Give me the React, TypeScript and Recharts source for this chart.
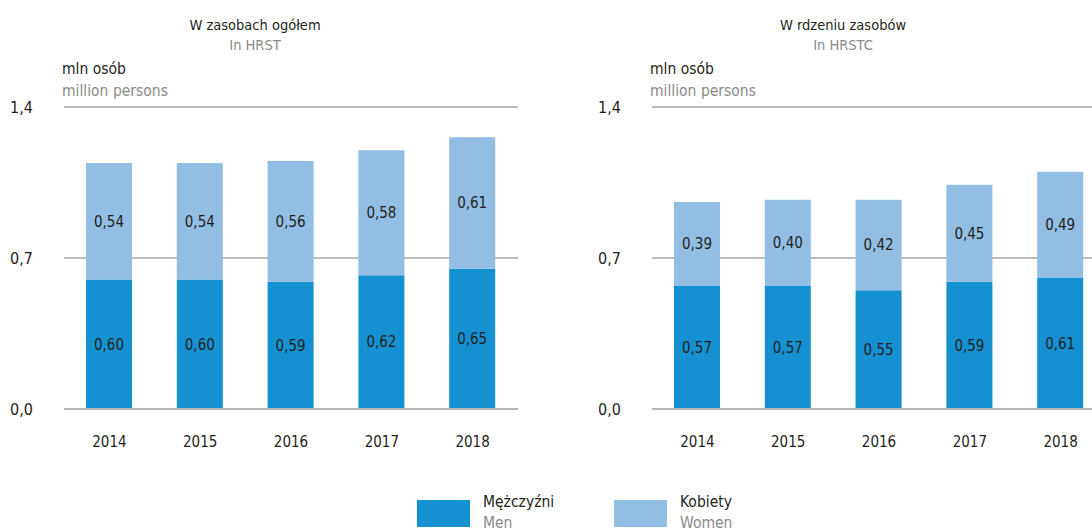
import { BarChart, Bar, XAxis, YAxis, CartesianGrid, LabelList } from "recharts";

const years = ["2014", "2015", "2016", "2017", "2018"];
const hrstMen = [0.6, 0.6, 0.59, 0.62, 0.65];
const hrstWomen = [0.54, 0.54, 0.56, 0.58, 0.61];
const hrstcMen = [0.57, 0.57, 0.55, 0.59, 0.61];
const hrstcWomen = [0.39, 0.4, 0.42, 0.45, 0.49];
const yTicks = [0, 0.7, 1.4];

const FONT = '"Liberation Sans Narrow", "DejaVu Sans Condensed", "Roboto Condensed", sans-serif';
const DARK = "#1591d2";
const LIGHT = "#93bee3";
const TEXT = "#231f20";
const GREY = "#8a8a8a";

const fmt = (v: number) => v.toFixed(2).replace(".", ",");

function YTick(props: any) {
  const { y, payload } = props;
  return (
    <text x={10} y={y} dy={6} fill={TEXT} fontSize={16} fontFamily={FONT} textAnchor="start">
      {payload.value.toFixed(1).replace(".", ",")}
    </text>
  );
}

function Panel({ left, title, sub, men, women }: { left: number; title: string; sub: string; men: number[]; women: number[] }) {
  const data = years.map((y, i) => ({ year: y, men: men[i], women: women[i] }));
  return (
    <div style={{ position: "absolute", left, top: 0, width: 540, height: 470 }}>
      <div style={{ position: "absolute", left: 0, width: 510, top: 15, textAlign: "center", fontSize: 14.5, color: TEXT, lineHeight: "20px" }}>
        {title}
        <div style={{ color: GREY }}>{sub}</div>
      </div>
      <div style={{ position: "absolute", left: 62, top: 58, fontSize: 15.5, lineHeight: "22px", color: TEXT }}>
        mln osób
        <div style={{ color: GREY }}>million persons</div>
      </div>
      <BarChart width={540} height={470} data={data} margin={{ top: 107, right: 22, bottom: 31, left: 0 }} barSize={46}>
        <CartesianGrid vertical={false} stroke="#7a7a7a" />
        <XAxis
          dataKey="year"
          height={30}
          tickLine={false}
          axisLine={{ stroke: "#b5b5b5", strokeWidth: 2 }}
          tickMargin={21}
          tick={{ fill: TEXT, fontSize: 15, fontFamily: FONT }}
        />
        <YAxis width={64} domain={[0, 1.4]} ticks={yTicks} axisLine={false} tickLine={false} tick={<YTick />} />
        <Bar dataKey="men" stackId="a" fill={DARK} isAnimationActive={false}>
          <LabelList dataKey="men" position="center" formatter={(v: any) => fmt(Number(v))} fill={TEXT} fontSize={15} fontFamily={FONT} />
        </Bar>
        <Bar dataKey="women" stackId="a" fill={LIGHT} isAnimationActive={false}>
          <LabelList dataKey="women" position="center" formatter={(v: any) => fmt(Number(v))} fill={TEXT} fontSize={15} fontFamily={FONT} />
        </Bar>
      </BarChart>
    </div>
  );
}

export default function App() {
  return (
    <div style={{ position: "fixed", left: 0, top: 0, width: 1092, height: 532, overflow: "hidden", background: "#fff", fontFamily: FONT }}>
      <Panel left={0} title="W zasobach ogółem" sub="In HRST" men={hrstMen} women={hrstWomen} />
      <Panel left={588} title="W rdzeniu zasobów" sub="In HRSTC" men={hrstcMen} women={hrstcWomen} />
      <div style={{ position: "absolute", left: 417, top: 500, width: 53, height: 27, background: DARK }} />
      <div style={{ position: "absolute", left: 483, top: 492, fontSize: 15.5, lineHeight: "21px", color: TEXT }}>
        Mężczyźni
        <div style={{ color: GREY }}>Men</div>
      </div>
      <div style={{ position: "absolute", left: 614, top: 500, width: 53, height: 27, background: LIGHT }} />
      <div style={{ position: "absolute", left: 680, top: 492, fontSize: 15.5, lineHeight: "21px", color: TEXT }}>
        Kobiety
        <div style={{ color: GREY }}>Women</div>
      </div>
    </div>
  );
}
